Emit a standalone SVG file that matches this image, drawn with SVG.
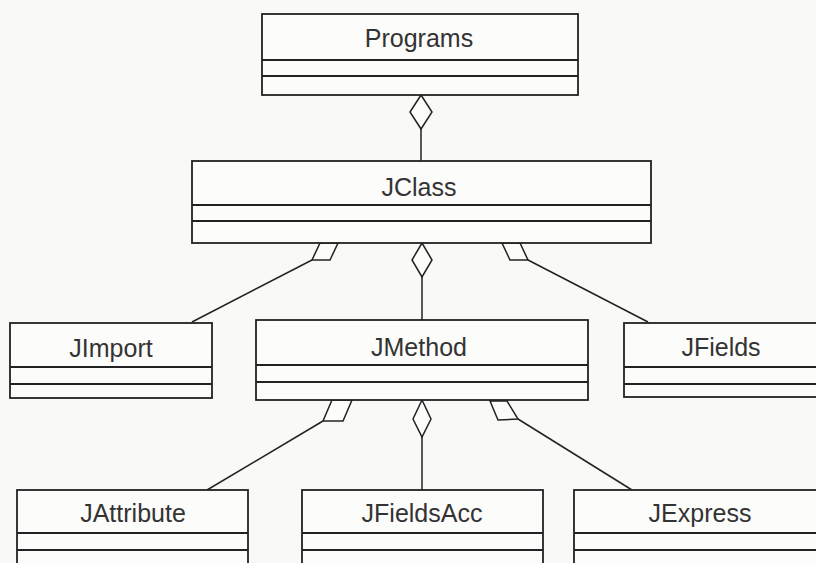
<svg xmlns="http://www.w3.org/2000/svg" width="816" height="563" viewBox="0 0 816 563">
<style>
.box{fill:#fcfcfb;stroke:#222;stroke-width:1.8}
.div{stroke:#222;stroke-width:1.8}
.lbl{font-family:"Liberation Sans",Arial,sans-serif;font-size:25px;fill:#333;text-anchor:middle}
.conn line{stroke:#222;stroke-width:1.5}
.conn polygon{fill:#fcfcfb;stroke:#222;stroke-width:1.5}
</style>
<rect width="816" height="563" fill="#f9f9f8"/>
<g id="connectors" class="conn">
<line x1="421" y1="129" x2="421" y2="161"/>
<polygon points="421,95 410,112 421,129 432,112"/>
<line x1="312" y1="260" x2="192" y2="322"/>
<polygon points="320,243 338,243 330,260 312,260"/>
<line x1="422" y1="277" x2="422" y2="320"/>
<polygon points="422,243 412,260 422,277 432,260"/>
<line x1="528" y1="260" x2="648" y2="322"/>
<polygon points="502,243 520,243 528,260 510,260"/>
<line x1="323" y1="421" x2="207" y2="490"/>
<polygon points="332,400 352,400 343,421 323,421"/>
<line x1="422" y1="437" x2="422" y2="490"/>
<polygon points="422,400 413,419 422,437 431,419"/>
<line x1="518" y1="419" x2="632" y2="490"/>
<polygon points="490,401 507,401 518,419 498,420"/>
</g>
<g id="Programs">
<rect class="box" x="262" y="14" width="316" height="81"/>
<line class="div" x1="262" y1="60" x2="578" y2="60"/>
<line class="div" x1="262" y1="76" x2="578" y2="76"/>
<text class="lbl" x="419" y="47">Programs</text>
</g>
<g id="JClass">
<rect class="box" x="192" y="161" width="459" height="82"/>
<line class="div" x1="192" y1="205" x2="651" y2="205"/>
<line class="div" x1="192" y1="221" x2="651" y2="221"/>
<text class="lbl" x="419" y="196">JClass</text>
</g>
<g id="JImport">
<rect class="box" x="10" y="323" width="202" height="75"/>
<line class="div" x1="10" y1="367" x2="212" y2="367"/>
<line class="div" x1="10" y1="384" x2="212" y2="384"/>
<text class="lbl" x="111" y="357">JImport</text>
</g>
<g id="JMethod">
<rect class="box" x="256" y="320" width="332" height="80"/>
<line class="div" x1="256" y1="365" x2="588" y2="365"/>
<line class="div" x1="256" y1="382" x2="588" y2="382"/>
<text class="lbl" x="419" y="356">JMethod</text>
</g>
<g id="JFields">
<rect class="box" x="624" y="323" width="196" height="74"/>
<line class="div" x1="624" y1="367" x2="820" y2="367"/>
<line class="div" x1="624" y1="384" x2="820" y2="384"/>
<text class="lbl" x="721" y="356">JFields</text>
</g>
<g id="JAttribute">
<rect class="box" x="17" y="490" width="231" height="90"/>
<line class="div" x1="17" y1="533" x2="248" y2="533"/>
<line class="div" x1="17" y1="550" x2="248" y2="550"/>
<text class="lbl" x="133" y="522">JAttribute</text>
</g>
<g id="JFieldsAcc">
<rect class="box" x="302" y="490" width="241" height="90"/>
<line class="div" x1="302" y1="533" x2="543" y2="533"/>
<line class="div" x1="302" y1="550" x2="543" y2="550"/>
<text class="lbl" x="422" y="522">JFieldsAcc</text>
</g>
<g id="JExpress">
<rect class="box" x="574" y="490" width="256" height="90"/>
<line class="div" x1="574" y1="533" x2="830" y2="533"/>
<line class="div" x1="574" y1="550" x2="830" y2="550"/>
<text class="lbl" x="700" y="522">JExpress</text>
</g>
</svg>
